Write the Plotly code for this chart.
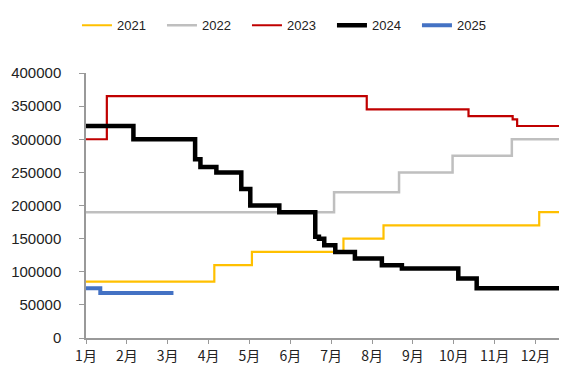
import plotly.graph_objects as go

# x = months since Jan 1 (0 = 1月), step points
months = ["1月", "2月", "3月", "4月", "5月", "6月", "7月", "8月", "9月", "10月", "11月", "12月"]
x_end = 11.77

x_2021 = [0, 3.14, 4.06, 6.30, 7.28, 11.09, x_end]
y_2021 = [85000, 110000, 130000, 150000, 170000, 190000, 190000]

x_2022 = [0, 6.07, 7.66, 8.97, 10.42, x_end]
y_2022 = [190000, 220000, 250000, 275000, 300000, 300000]

x_2023 = [0, 0.51, 6.87, 9.36, 10.44, 10.55, x_end]
y_2023 = [300000, 365000, 345000, 335000, 330000, 320000, 320000]

x_2024 = [0, 1.16, 2.67, 2.80, 3.19, 3.80, 4.02, 4.73, 5.61, 5.70, 5.83, 6.10, 6.58, 7.24, 7.73, 9.11, 9.56, x_end]
y_2024 = [320000, 300000, 270000, 258000, 250000, 225000, 200000, 190000, 153000, 150000, 140000, 130000,
          120000, 110000, 105000, 90000, 75000, 75000]

x_2025 = [0, 0.35, 2.14]
y_2025 = [75000, 68000, 68000]

series = [
    ("2021", x_2021, y_2021, "#FFC000", 2.2),
    ("2022", x_2022, y_2022, "#BFBFBF", 2.5),
    ("2023", x_2023, y_2023, "#C00000", 2.2),
    ("2024", x_2024, y_2024, "#000000", 4.5),
    ("2025", x_2025, y_2025, "#4472C4", 4),
]

fig = go.Figure()
for name, xs, ys, color, w in series:
    fig.add_trace(go.Scatter(x=xs, y=ys, name=name, mode="lines", line_shape="hv",
                             line=dict(color=color, width=w)))

# page body has an 8px margin, so the figure is a bit smaller than the window
fig.update_layout(
    width=559, height=360,
    margin=dict(l=78, r=0, t=65, b=30, autoexpand=False),
    paper_bgcolor="white", plot_bgcolor="white",
    font=dict(family="Liberation Sans, Arial, sans-serif", color="#333333"),
    legend=dict(orientation="h", x=0.423, xanchor="center",
                y=1.18, yanchor="middle",
                entrywidth=40, entrywidthmode="pixels",
                font=dict(size=13, color="#222222"),
                traceorder="normal"),
    showlegend=True,
)

fig.update_xaxes(range=[0, x_end], tickvals=list(range(12)), ticktext=months,
                 showline=True, linecolor="#999999", linewidth=1.5,
                 ticks="outside", ticklen=4, tickcolor="#999999",
                 showgrid=False, zeroline=False, tickangle=0,
                 tickfont=dict(family="Noto Sans CJK SC", size=14, color="#222222"))
fig.update_yaxes(range=[0, 400000], tickvals=list(range(0, 400001, 50000)),
                 tickformat="d",
                 showline=True, linecolor="#999999", linewidth=1.5,
                 ticks="outside", ticklen=5, tickcolor="#999999",
                 ticklabelstandoff=15,
                 showgrid=False, zeroline=False,
                 tickfont=dict(size=15, color="#222222"))

fig.write_html("out.html")
